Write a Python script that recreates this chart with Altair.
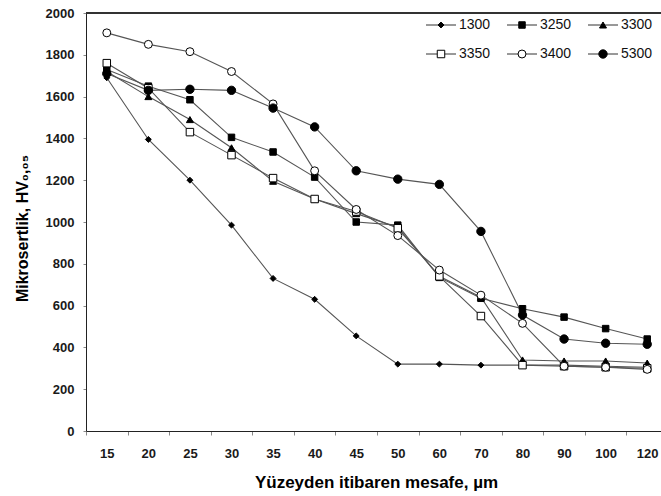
import altair as alt
import pandas as pd

distances = ["15", "20", "25", "30", "35", "40", "45", "50", "60", "70", "80", "90", "100", "120"]
series_names = ["1300", "3250", "3300", "3350", "3400", "5300"]

s1300 = [1690, 1395, 1200, 985, 730, 630, 455, 320, 320, 315, 315, 315, 310, 305]
s3250 = [1730, 1650, 1585, 1405, 1335, 1215, 1000, 985, 735, 635, 585, 545, 490, 440]
s3300 = [1720, 1600, 1490, 1355, 1195, 1110, 1040, 975, 740, 640, 340, 335, 335, 325]
s3350 = [1760, 1640, 1430, 1320, 1210, 1110, 1050, 970, 740, 550, 315, 310, 305, 300]
s3400 = [1905, 1850, 1815, 1720, 1565, 1245, 1060, 935, 770, 650, 515, 310, 305, 295]
s5300 = [1710, 1630, 1635, 1630, 1545, 1455, 1245, 1205, 1180, 955, 555, 440, 420, 415]

values = [s1300, s3250, s3300, s3350, s3400, s5300]

shapes = ["diamond", "square", "triangle-up", "square", "circle", "circle"]
fills = ["black", "black", "black", "white", "white", "black"]
sizes = [35, 70, 65, 65, 55, 60]

legend_col = [0, 1, 2, 0, 1, 2]
legend_row = [0, 0, 0, 1, 1, 1]

rows = []
for name, vals in zip(series_names, values):
    for d, v in zip(distances, vals):
        rows.append({"dist": d, "hv": v, "series": name})
df = pd.DataFrame(rows)

leg = pd.DataFrame({"series": series_names, "col": legend_col, "row": legend_row})

FONT = "Liberation Sans"

shape_enc = alt.Shape("series:N", scale=alt.Scale(domain=series_names, range=shapes), legend=None)
fill_enc = alt.Fill("series:N", scale=alt.Scale(domain=series_names, range=fills), legend=None)
size_enc = alt.Size("series:N", scale=alt.Scale(domain=series_names, range=sizes), legend=None)

x_enc = alt.X(
    "dist:N",
    sort=distances,
    scale=alt.Scale(type="band", paddingInner=0, paddingOuter=0, range=[0, 582]),
    axis=alt.Axis(
        title="Yüzeyden itibaren mesafe, µm",
        labelAngle=0,
        tickBand="extent",
        tickSize=4,
        tickColor="#888",
        labelPadding=12,
        labelFontWeight="bold",
        labelFontSize=13,
        labelFont=FONT,
        labelColor="#1a1a1a",
        titleFont=FONT,
        titleFontSize=17,
        titleFontWeight="bold",
        titlePadding=14,
        titleX=290,
        titleAnchor="middle",
        domainColor="#222",
        grid=False,
    ),
)
y_enc = alt.Y(
    "hv:Q",
    scale=alt.Scale(domain=[0, 2000]),
    axis=alt.Axis(
        title="Mikrosertlik, HV₀,₀₅",
        values=list(range(0, 2001, 200)),
        format="d",
        tickSize=3,
        tickColor="#888",
        labelPadding=9,
        labelFontWeight="bold",
        labelFontSize=13,
        labelFont=FONT,
        labelColor="#1a1a1a",
        titleFont=FONT,
        titleFontSize=16,
        titleFontWeight="bold",
        titleX=-56,
        titleY=215,
        domainColor="#222",
        grid=False,
    ),
)

lines = alt.Chart(df).mark_line(color="#555", strokeWidth=1.1).encode(
    x=x_enc, y=y_enc, detail="series:N"
)
points = alt.Chart(df).mark_point(filled=False, stroke="black", strokeWidth=1, opacity=1).encode(
    x=x_enc, y=y_enc, shape=shape_enc, fill=fill_enc, size=size_enc
)

top_border = alt.Chart(df).mark_rule(color="#333", strokeWidth=1).encode(
    x=alt.value(0), x2=alt.value(600), y=alt.value(0)
)

lx = alt.X("col:Q", scale=alt.Scale(domain=[0, 2], range=[355, 517]), axis=None)
ly = alt.Y("row:Q", scale=alt.Scale(domain=[0, 1], range=[12, 41]), axis=None)

leg_lines = alt.Chart(leg).mark_rule(color="#333", strokeWidth=1, xOffset=-15, x2Offset=15).encode(
    x=lx, x2="col:Q", y=ly
)
leg_points = alt.Chart(leg).mark_point(filled=False, stroke="black", strokeWidth=1, opacity=1).encode(
    x=lx, y=ly, shape=shape_enc, fill=fill_enc, size=size_enc
)
leg_text = alt.Chart(leg).mark_text(
    align="left", baseline="middle", dx=18, fontSize=14, font=FONT, color="#111"
).encode(x=lx, y=ly, text="series:N")

legend_layer = alt.layer(leg_lines, leg_points, leg_text)

chart = (
    alt.layer(alt.layer(lines, points, top_border), legend_layer)
    .resolve_scale(x="independent", y="independent")
    .properties(
        width=575,
        height=418,
        padding={"left": 86, "top": 13, "right": 0, "bottom": 65},
        autosize=alt.AutoSizeParams(type="none"),
        background="white",
    )
    .configure_view(stroke=None)
)

chart.save("out.html", embed_options={"renderer": "svg", "actions": False})
